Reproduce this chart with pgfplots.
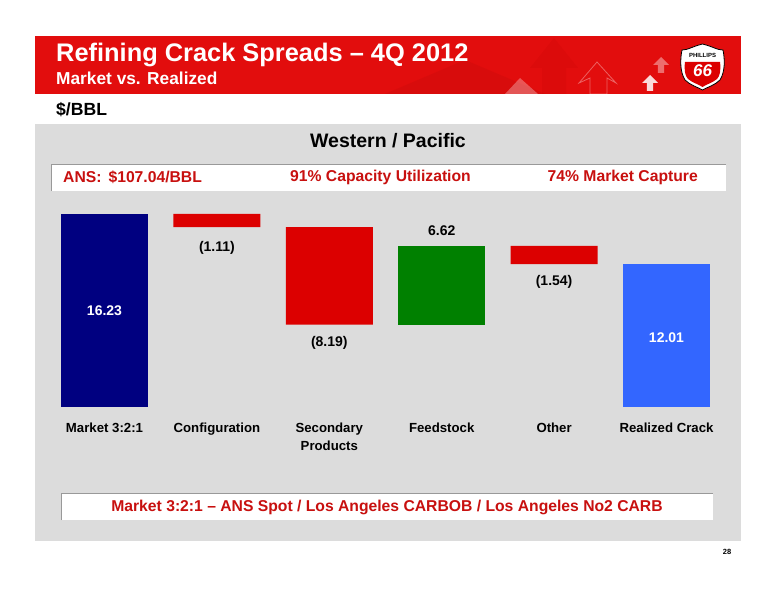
\documentclass[border=0pt]{standalone}
\usepackage{pgfplots}
\pgfplotsset{compat=1.18}
\usepackage{fontspec}
\setmainfont{Liberation Sans}
\definecolor{bannerred}{HTML}{E20D0D}
\definecolor{bannerdark}{HTML}{D80C0C}
\definecolor{panel}{HTML}{DCDCDC}
\definecolor{txtred}{HTML}{C8100F}
\definecolor{barred}{HTML}{DC0000}
\definecolor{bargreen}{HTML}{008000}
\definecolor{barnavy}{HTML}{000080}
\definecolor{barblue}{HTML}{3366FF}
\pgfplotstableread{
x base navy red green blue
0 0 16.23 0 0 0
1 15.12 0 1.11 0 0
2 6.93 0 8.19 0 0
3 6.93 0 0 6.62 0
4 12.01 0 1.54 0 0
5 0 0 0 0 12.01
}\wf
\newcommand{\upar}[4]{% x,y(px), size, style
  \fill[#4] (#1,600-#2) -- ++(#3,-#3) -- ++(-0.6*#3,0) -- ++(0,-#3) -- ++(-0.8*#3,0) -- ++(0,#3) -- ++(-0.6*#3,0) -- cycle;}
\begin{document}
\begin{tikzpicture}[x=1pt,y=1pt]
\fill[white] (0,0) rectangle (776,600);
% banner
\begin{scope}
\clip (35,600-36) rectangle (741,600-94);
\fill[bannerred] (35,600-36) rectangle (741,600-94);
\fill[bannerdark] (385,600-94) -- (465,600-60) -- (545,600-94) -- cycle;
\fill[red!70!black,opacity=.12] (554,600-38) -- (578,600-68) -- (566,600-68) -- (566,600-94) -- (542,600-94) -- (542,600-68) -- (530,600-68) -- cycle;
\fill[white,opacity=.3] (505,600-94) -- (520,600-78) -- (538,600-94) -- cycle;
\draw[white,opacity=.35,line width=.8pt] (597,600-62) -- (616,600-83) -- (607,600-78) -- (607,600-94) -- (590,600-94) -- (590,600-78) -- (579,600-83) -- cycle;
\upar{661}{57}{8}{white,opacity=.4}
\upar{650}{75}{8}{white,opacity=.85}
\end{scope}
\node[anchor=west,text=white,font=\bfseries\fontsize{25.4}{25.4}\selectfont,inner sep=0pt] at (56,600-55) {Refining Crack Spreads – 4Q 2012};
\node[anchor=west,text=white,font=\bfseries\fontsize{17.3}{17.3}\selectfont,inner sep=0pt] at (56,600-78) {Market vs. Realized};
% logo
\fill[white,draw=black,line width=.8pt] (682,600-50) .. controls (688,600-50) and (691,600-47) .. (702.5,600-44) .. controls (714,600-47) and (717,600-50) .. (723,600-50) .. controls (725,600-60) and (725,600-72) .. (720,600-80) .. controls (715,600-85) and (708,600-87) .. (702.5,600-90) .. controls (697,600-87) and (690,600-85) .. (685,600-80) .. controls (680,600-72) and (680,600-60) .. (682,600-50) -- cycle;
\fill[barred] (685,600-62) -- (720,600-62) .. controls (721,600-70) and (720,600-76) .. (717,600-79) .. controls (712,600-83) and (707,600-84) .. (702.5,600-87) .. controls (698,600-84) and (693,600-83) .. (688,600-79) .. controls (685,600-76) and (684,600-70) .. (685,600-62) -- cycle;
\node[font=\bfseries\fontsize{6}{6}\selectfont,inner sep=0pt] at (702.5,600-55) {PHILLIPS};
\node[text=white,font=\bfseries\itshape\fontsize{17}{17}\selectfont,inner sep=0pt] at (702.5,600-71) {66};
% unit
\node[anchor=west,font=\bfseries\fontsize{17.6}{17.6}\selectfont,inner sep=0pt] at (56,600-110) {\$/BBL};
% panel
\fill[panel] (35,600-124) rectangle (741,600-541);
\node[font=\bfseries\fontsize{19.5}{19.5}\selectfont,inner sep=0pt] at (388,600-141) {Western / Pacific};
% top box
\fill[white] (51,600-164) rectangle (726,600-191);
\draw[gray!80,line width=.8pt] (51,600-191) -- (51,600-164) -- (726,600-164);
\node[anchor=west,text=txtred,font=\bfseries\fontsize{15.7}{15.7}\selectfont,inner sep=0pt] at (63,600-177.5) {ANS:\, \$107.04/BBL};
\node[text=txtred,font=\bfseries\fontsize{15.7}{15.7}\selectfont,inner sep=0pt] at (380.5,600-177.5) {91\% Capacity Utilization};
\node[anchor=east,text=txtred,font=\bfseries\fontsize{15.7}{15.7}\selectfont,inner sep=0pt] at (698,600-177.5) {74\% Market Capture};
% bottom box
\fill[white] (61,600-493) rectangle (713,600-520);
\draw[gray!80,line width=.8pt] (61,600-520) -- (61,600-493) -- (713,600-493);
\node[text=txtred,font=\bfseries\fontsize{15.7}{15.7}\selectfont,inner sep=0pt] at (387,600-507.5) {Market 3:2:1 – ANS Spot / Los Angeles CARBOB / Los Angeles No2 CARB};
\node[font=\bfseries\fontsize{7.5}{7.5}\selectfont,inner sep=0pt] at (727,600-552) {28};
% chart
\begin{axis}[
  at={(48.3pt,193pt)},anchor=south west,
  scale only axis,width=674.4pt,height=202.2pt,
  xmin=-0.5,xmax=5.5,ymin=0,ymax=17,
  axis line style={draw=none},
  ymajorticks=false,
  xtick=data,
  xticklabels={Market 3:2:1,Configuration,Secondary\\Products,Feedstock,Other,Realized Crack},
  xtick style={draw=none},
  x tick label style={font=\bfseries\fontsize{13.2}{18}\selectfont,align=center,anchor=north,yshift=-12pt},
  ybar stacked,
  bar width=87pt,
  clip=false,
  every axis plot/.append style={draw=none},
]
\addplot[fill=none,draw=none] table[x=x,y=base]{\wf};
\addplot[fill=barnavy] table[x=x,y=navy]{\wf};
\addplot[fill=barred] table[x=x,y=red]{\wf};
\addplot[fill=bargreen] table[x=x,y=green]{\wf};
\addplot[fill=barblue] table[x=x,y=blue]{\wf};
\end{axis}
\begin{axis}[
  at={(48.3pt,193pt)},anchor=south west,
  scale only axis,width=674.4pt,height=202.2pt,
  xmin=-0.5,xmax=5.5,ymin=0,ymax=17,
  hide axis,clip=false,
]
\node[text=white,font=\bfseries\fontsize{14}{14}\selectfont] at (axis cs:0,8.1) {16.23};
\node[font=\bfseries\fontsize{14}{14}\selectfont] at (axis cs:1,13.4) {(1.11)};
\node[font=\bfseries\fontsize{14}{14}\selectfont] at (axis cs:2,5.4) {(8.19)};
\node[font=\bfseries\fontsize{14}{14}\selectfont] at (axis cs:3,14.8) {6.62};
\node[font=\bfseries\fontsize{14}{14}\selectfont] at (axis cs:4,10.5) {(1.54)};
\node[text=white,font=\bfseries\fontsize{14}{14}\selectfont] at (axis cs:5,5.8) {12.01};
\end{axis}
\end{tikzpicture}
\end{document}
